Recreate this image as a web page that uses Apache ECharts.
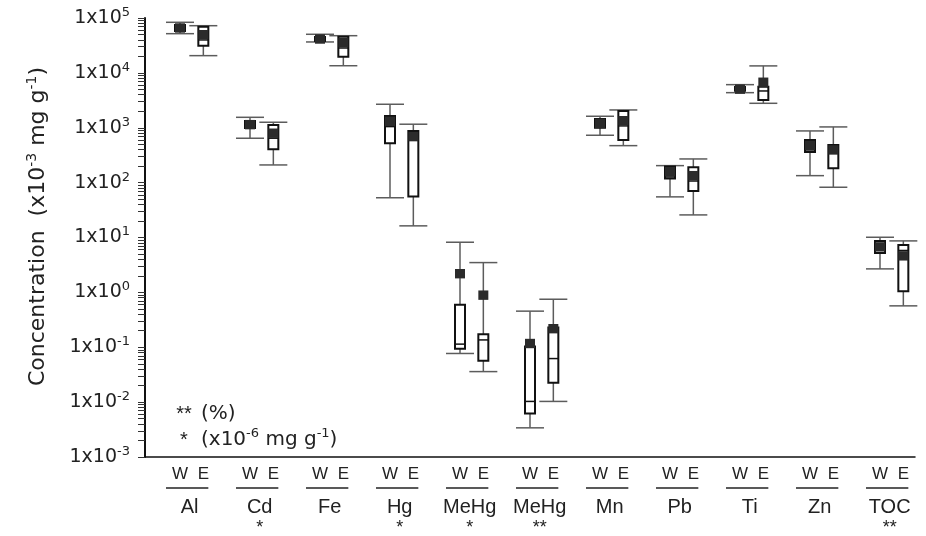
<!doctype html>
<html>
<head>
<meta charset="utf-8">
<title>Concentration box plot</title>
<style>
    html, body { margin: 0; padding: 0; background: #fff; }
    #main { width: 926px; height: 536px; }
</style>
</head>
<body>
<div id="main"></div>
<script src="https://cdn.jsdelivr.net/npm/echarts@6/dist/echarts.min.js"></script>
<script>
    // element groups, each with a W and an E box
    var elements = ['Al', 'Cd', 'Fe', 'Hg', 'MeHg', 'MeHg', 'Mn', 'Pb', 'Ti', 'Zn', 'TOC'];
    var unitMarks = ['', '*', '', '*', '*', '**', '', '', '', '', '**'];
    var sites = ['W', 'E'];

    // [min, q1, median, q3, max, mean]
    var westStats = [
        [51800, 58000, 65000, 74500, 83500, 65800],
        [644, 990, 1100, 1330, 1550, 1140],
        [36600, 38100, 41000, 45100, 50500, 41400],
        [53, 522, 1050, 1640, 2680, 1310],
        [0.077, 0.0935, 0.114, 0.592, 8.2, 2.19],
        [0.0034, 0.0062, 0.0103, 0.103, 0.455, 0.117],
        [730, 1000, 1200, 1450, 1620, 1200],
        [55, 119, 127, 197, 204, 158],
        [4360, 4700, 5050, 5500, 6100, 5050],
        [134, 362, 394, 600, 875, 476],
        [2.68, 5.24, 6.4, 8.67, 10.1, 6.75]
    ];
    var eastStats = [
        [20600, 31300, 39800, 69500, 72400, 49600],
        [210, 405, 645, 1125, 1260, 795],
        [13500, 19700, 28400, 45700, 47600, 35500],
        [16.3, 55.6, 700, 875, 1160, 689],
        [0.036, 0.0565, 0.136, 0.173, 3.49, 0.89],
        [0.0103, 0.0225, 0.0622, 0.229, 0.75, 0.218],
        [472, 600, 1080, 2020, 2110, 1345],
        [25.8, 70.6, 107, 191, 270, 134],
        [2790, 3210, 4680, 5610, 13400, 6750],
        [82.4, 183, 362, 486, 1035, 394],
        [0.568, 1.05, 5.8, 7.33, 8.67, 4.63]
    ];

    var yTicks = [1e-3, 1e-2, 1e-1, 1e0, 1e1, 1e2, 1e3, 1e4, 1e5];
    var minorSteps = [2, 3, 4, 5, 6, 7, 8, 9];

    var chart = echarts.init(document.getElementById('main'));

    // three slots per element: spacer, W, E
    var slots = [];
    elements.forEach(function (name, i) {
        slots.push(i + ':');
        slots.push(i + ':' + sites[0]);
        slots.push(i + ':' + sites[1]);
    });

    var allTicks = yTicks.slice();
    yTicks.slice(0, -1).forEach(function (t) {
        minorSteps.forEach(function (k) { allTicks.push(t * k); });
    });

    function boxData(stats, offset) {
        return stats.map(function (s, i) { return [3 * i + offset].concat(s); });
    }

    function renderBox(params, api) {
        var x = api.value(0);
        var lo = api.coord([x, api.value(1)]);
        var q1 = api.coord([x, api.value(2)]);
        var med = api.coord([x, api.value(3)]);
        var q3 = api.coord([x, api.value(4)]);
        var hi = api.coord([x, api.value(5)]);
        var mean = api.coord([x, api.value(6)]);
        var cx = lo[0];
        var cap = 14, half = 5, sqW = 5, sqH = 4.7;
        var whisker = { stroke: '#5c5c5c', lineWidth: 1.5 };
        return {
            type: 'group',
            children: [
                { type: 'line', shape: { x1: cx, y1: hi[1], x2: cx, y2: lo[1] }, style: whisker },
                { type: 'line', shape: { x1: cx - cap, y1: hi[1], x2: cx + cap, y2: hi[1] }, style: whisker },
                { type: 'line', shape: { x1: cx - cap, y1: lo[1], x2: cx + cap, y2: lo[1] }, style: whisker },
                { type: 'rect', shape: { x: cx - half, y: q3[1], width: 2 * half, height: q1[1] - q3[1] },
                  style: { fill: '#fff', stroke: '#111', lineWidth: 2 } },
                { type: 'line', shape: { x1: cx - half, y1: med[1], x2: cx + half, y2: med[1] },
                  style: { stroke: '#111', lineWidth: 1.5 } },
                { type: 'rect', shape: { x: cx - sqW, y: mean[1] - sqH, width: 2 * sqW, height: 2 * sqH },
                  style: { fill: '#2b2b2b' } }
            ]
        };
    }

    var font = 'Liberation Sans, Arial, sans-serif';
    var wide = 'DejaVu Sans, sans-serif';

    chart.setOption({
        animation: false,
        grid: { left: 145, right: 11, top: 18, bottom: 79 },
        xAxis: {
            type: 'category',
            data: slots,
            boundaryGap: true,
            axisLine: { lineStyle: { color: '#111', width: 1.5 } },
            axisTick: { interval: 0, length: 5, lineStyle: { color: '#333' } },
            axisLabel: {
                interval: 0,
                margin: 9,
                fontFamily: font,
                fontSize: 17,
                color: '#222',
                formatter: function (v) { return v.split(':')[1]; }
            },
            splitLine: { show: false }
        },
        yAxis: {
            type: 'log',
            logBase: 10,
            min: 1e-3,
            max: 1e5,
            axisLine: { show: true, lineStyle: { color: '#111', width: 2 } },
            axisTick: { show: true, length: 7, customValues: allTicks, lineStyle: { color: '#333', width: 1 } },
            axisLabel: {
                customValues: yTicks,
                margin: 15,
                formatter: function (v) {
                    return '{b|1x10}{s|' + Math.round(Math.log10(v)) + '}';
                },
                rich: {
                    b: { fontFamily: wide, fontSize: 19, lineHeight: 24, color: '#222' },
                    s: { fontFamily: wide, fontSize: 13, lineHeight: 14, verticalAlign: 'top', color: '#222' }
                }
            },
            splitLine: { show: false },
            name: '{b|Concentration  (x10}{s|-3}{b| mg g}{s|-1}{b|)}',
            nameLocation: 'middle',
            nameRotate: 90,
            nameGap: 94,
            nameTextStyle: {
                padding: [0, 0, 0, 22],
                rich: {
                    b: { fontFamily: wide, fontSize: 22, lineHeight: 26, color: '#222' },
                    s: { fontFamily: wide, fontSize: 14, lineHeight: 14, verticalAlign: 'top', color: '#222' }
                }
            }
        },
        series: [
            { type: 'custom', name: 'W', renderItem: renderBox, data: boxData(westStats, 1), clip: false },
            { type: 'custom', name: 'E', renderItem: renderBox, data: boxData(eastStats, 2), clip: false }
        ]
    });

    // group underlines, element names, unit marks and the unit note
    var textStyle = { fontFamily: font, fill: '#222', align: 'center', verticalAlign: 'middle' };
    var overlay = [];
    elements.forEach(function (name, i) {
        var xw = chart.convertToPixel({ xAxisIndex: 0 }, 3 * i + 1);
        var xe = chart.convertToPixel({ xAxisIndex: 0 }, 3 * i + 2);
        var mid = (xw + xe) / 2 - 2;
        overlay.push({ type: 'line', shape: { x1: xw - 14, y1: 488, x2: xe + 5, y2: 488 },
            style: { stroke: '#222', lineWidth: 1.5 } });
        overlay.push({ type: 'text', x: mid, y: 507,
            style: echarts.util.extend({ text: name, fontSize: 20 }, textStyle) });
        if (unitMarks[i]) {
            overlay.push({ type: 'text', x: mid, y: 528,
                style: echarts.util.extend({ text: unitMarks[i], fontSize: 18 }, textStyle) });
        }
    });
    var noteRich = {
        b: { fontFamily: wide, fontSize: 20, lineHeight: 26, fill: '#222' },
        s: { fontFamily: wide, fontSize: 13, lineHeight: 14, verticalAlign: 'top', fill: '#222' }
    };
    overlay.push({ type: 'text', x: 184, y: 414, style: echarts.util.extend({ text: '**', fontSize: 20 }, textStyle) });
    overlay.push({ type: 'text', x: 184, y: 440, style: echarts.util.extend({ text: '*', fontSize: 20 }, textStyle) });
    overlay.push({ type: 'text', x: 201, y: 414,
        style: { text: '{b|(%)}', rich: noteRich, verticalAlign: 'middle' } });
    overlay.push({ type: 'text', x: 201, y: 440,
        style: { text: '{b|(x10}{s|-6}{b| mg g}{s|-1}{b|)}', rich: noteRich, verticalAlign: 'middle' } });

    chart.setOption({ graphic: overlay });

    window.addEventListener('resize', function () {
        chart.resize();
    });
</script>
</body>
</html>
